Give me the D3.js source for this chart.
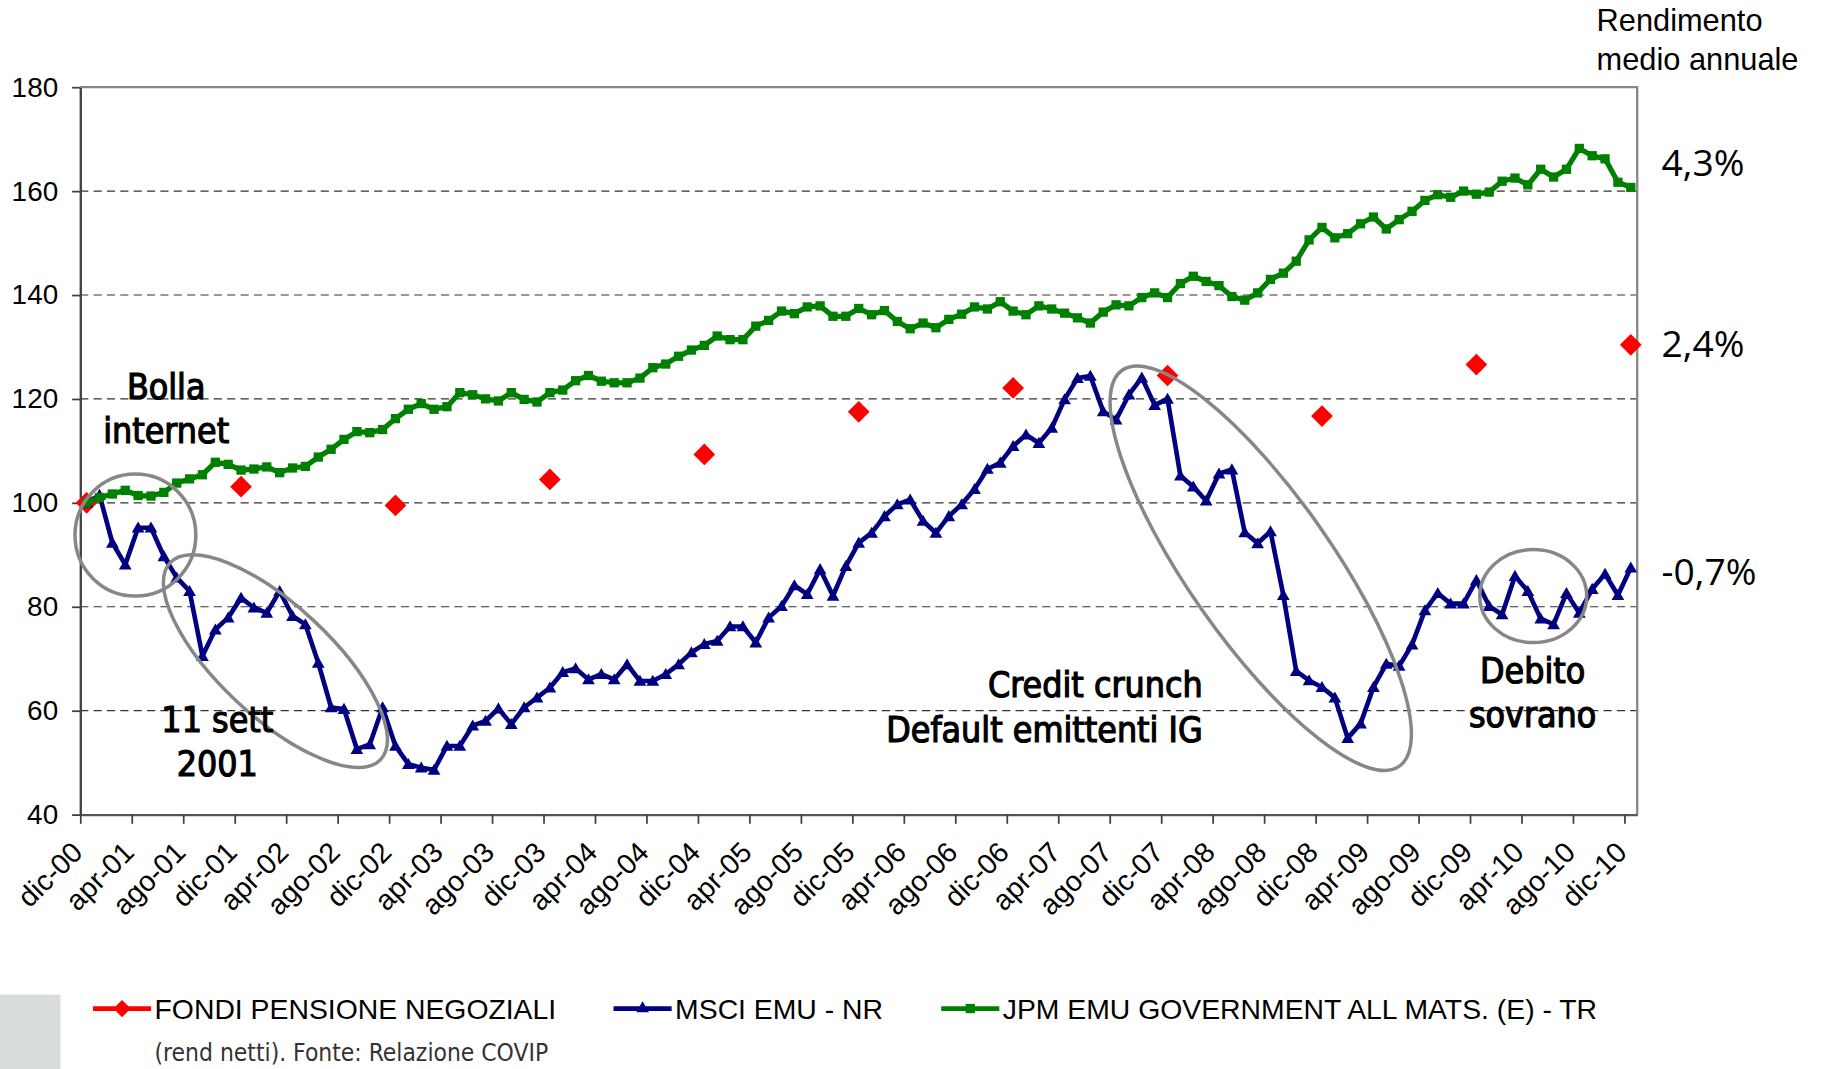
<!DOCTYPE html>
<html lang="it">
<head>
  <meta charset="UTF-8">
  <title>Rendimenti fondi pensione, MSCI EMU, JPM EMU</title>
  <script src="https://cdn.jsdelivr.net/npm/d3@7"></script>
  <style>
    html, body { margin: 0; padding: 0; background: #fff; }
    svg { display: block; }
  </style>
</head>
<body>
  <script>

    // monthly labels, one every 4 months (dic-00 ... dic-10)
    var tickLabels = [
      "dic-00", "apr-01", "ago-01", "dic-01", "apr-02", "ago-02", "dic-02",
      "apr-03", "ago-03", "dic-03", "apr-04", "ago-04", "dic-04", "apr-05",
      "ago-05", "dic-05", "apr-06", "ago-06", "dic-06", "apr-07", "ago-07",
      "dic-07", "apr-08", "ago-08", "dic-08", "apr-09", "ago-09", "dic-09",
      "apr-10", "ago-10", "dic-10"
    ];

    // MSCI EMU - NR, monthly, base 100 at dic-00
    var msciEmu = [
      100, 101.5, 92.3, 88.1, 95.2, 95.2, 89.7, 85.6, 83.0, 70.5, 75.6, 77.9,
      81.7, 79.8, 78.8, 83.0, 78.2, 76.6, 69.2, 60.6, 60.3, 52.6, 53.5, 60.6,
      53.2, 49.7, 49.0, 48.6, 53.2, 53.2, 57.1, 58.0, 60.4, 57.4, 60.6, 62.5,
      64.4, 67.4, 68.1, 66.0, 67.0, 66.0, 68.9, 65.7, 65.7, 67.0, 68.9, 71.2,
      72.8, 73.4, 76.2, 76.2, 73.1, 77.9, 80.1, 84.1, 82.4, 87.2, 82.1, 87.8,
      92.3, 94.2, 97.4, 99.7, 100.6, 96.5, 94.2, 97.4, 99.7, 102.6, 106.5, 107.7,
      110.9, 113.1, 111.5, 114.4, 119.9, 124.0, 124.4, 117.6, 116.0, 120.8, 124.1, 118.8,
      120.0, 105.2, 103.1, 100.4, 105.6, 106.4, 94.3, 92.2, 94.5, 82.2, 67.6, 65.8,
      64.5, 62.5, 54.7, 57.5, 64.5, 69.0, 68.6, 72.7, 79.3, 82.6, 80.6, 80.6,
      85.1, 80.1, 78.5, 85.9, 83.0, 77.7, 76.6, 82.6, 78.8, 83.4, 86.3, 82.2,
      87.5
    ];

    // JPM EMU GOVERNMENT ALL MATS. (E) - TR, monthly
    var jpmEmu = [
      100, 101.0, 101.7, 102.4, 101.4, 101.3, 102.0, 103.8, 104.6, 105.4, 107.8, 107.4,
      106.3, 106.5, 106.9, 105.8, 106.7, 107.0, 108.8, 110.3, 112.2, 113.7, 113.5, 114.1,
      116.2, 118.0, 119.1, 118.0, 118.5, 121.2, 120.8, 120.0, 119.6, 121.2, 119.9, 119.4,
      121.2, 121.7, 123.5, 124.5, 123.4, 123.1, 123.1, 124.0, 126.0, 126.7, 128.2, 129.4,
      130.3, 132.1, 131.4, 131.4, 134.0, 135.1, 136.9, 136.4, 137.7, 137.9, 135.9, 135.9,
      137.4, 136.2, 137.0, 134.9, 133.5, 134.6, 133.7, 135.3, 136.3, 137.7, 137.3, 138.7,
      136.9, 136.2, 137.9, 137.3, 136.5, 135.6, 134.6, 136.7, 138.1, 137.9, 139.5, 140.4,
      139.5, 142.2, 143.6, 142.6, 141.8, 139.7, 139.0, 140.4, 143.0, 144.2, 146.5, 150.6,
      153.0, 151.0, 151.8, 153.7, 155.0, 152.7, 154.5, 156.1, 158.2, 159.3, 158.8, 160.0,
      159.4, 159.8, 161.9, 162.5, 161.2, 164.2, 162.7, 164.2, 168.2, 166.8, 166.2, 161.7,
      160.7
    ];

    // FONDI PENSIONE NEGOZIALI, one value per year (month index, value)
    var fondiMonths = [0, 12, 24, 36, 48, 60, 72, 84, 96, 108, 120];
    var fondiValues = [100, 103.1, 99.5, 104.5, 109.3, 117.5, 122.1, 124.5, 116.7, 126.6, 130.4];

    // average annual return, right side
    var rendLabels = ["4,3%", "2,4%", "-0,7%"];
    var rendValues = [165.3, 130.5, 86.7];

    var legendNames = [
      "FONDI PENSIONE NEGOZIALI",
      "MSCI EMU - NR",
      "JPM EMU GOVERNMENT ALL MATS. (E) - TR"
    ];

    var yTicks = [40, 60, 80, 100, 120, 140, 160, 180];

    var red = "#ff0000", navy = "#000080", green = "#008000", grey = "#878787";
    var nMonths = msciEmu.length;

    var plotLeft = 69, plotRight = 1409, plotTop = 75, plotBottom = 701;

    var svg = d3.select("body")
      .append("svg")
        .attr("width", 1822)
        .attr("height", 1069)
        .attr("viewBox", "0 0 1568 920");

    // grey block in the lower-left corner of the slide
    svg.append("rect")
        .attr("x", 0).attr("y", 856)
        .attr("width", 52).attr("height", 64)
        .attr("fill", "#d9dcdd");

    var x = d3.scaleLinear().domain([0, nMonths]).range([plotLeft, plotRight]);
    var y = d3.scaleLinear().domain([40, 180]).range([plotBottom, plotTop]);
    var xc = function(i) { return x(i + 0.5); };

    // dashed grid lines
    svg.append("g")
      .selectAll("line")
      .data(yTicks.filter(function(t) { return t > 40 && t < 180; }))
      .enter().append("line")
        .attr("x1", plotLeft).attr("x2", plotRight)
        .attr("y1", function(d) { return y(d); })
        .attr("y2", function(d) { return y(d); })
        .attr("stroke", "#333")
        .attr("stroke-width", 1)
        .attr("stroke-dasharray", "7,4.5");

    // top and right border
    svg.append("path")
        .attr("d", "M" + plotLeft + "," + plotTop + "H" + plotRight + "V" + plotBottom)
        .attr("fill", "none")
        .attr("stroke", grey)
        .attr("stroke-width", 2);

    // y axis
    var yAxis = svg.append("g")
        .attr("transform", "translate(" + plotLeft + ",0)")
        .call(d3.axisLeft(y).tickValues(yTicks).tickSize(7).tickSizeOuter(0));
    yAxis.select(".domain").attr("stroke", "#404040").attr("stroke-width", 2);
    yAxis.selectAll(".tick line").attr("stroke", "#404040").attr("stroke-width", 1.5);
    yAxis.selectAll(".tick text")
        .attr("x", -19)
        .attr("font-family", "'Liberation Sans', Arial, sans-serif")
        .attr("font-size", 24)
        .attr("fill", "#000");

    // x axis
    var xAxis = svg.append("g")
        .attr("transform", "translate(0," + plotBottom + ")")
        .call(d3.axisBottom(x)
          .tickValues(d3.range(0, nMonths, 4))
          .tickFormat(function(d) { return tickLabels[d / 4]; })
          .tickSize(8)
          .tickSizeOuter(0));
    xAxis.select(".domain").attr("stroke", "#555").attr("stroke-width", 2);
    xAxis.selectAll(".tick line").attr("stroke", "#404040").attr("stroke-width", 1.5);
    xAxis.selectAll(".tick text")
        .attr("text-anchor", "end")
        .attr("dy", 0)
        .attr("y", 0)
        .attr("transform", "translate(3,34) rotate(-45)")
        .attr("font-family", "'Liberation Sans', Arial, sans-serif")
        .attr("font-size", 24.5)
        .attr("fill", "#000");

    // series
    var line = d3.line()
        .x(function(d, i) { return xc(i); })
        .y(function(d) { return y(d); });

    var diamond = d3.symbol().type(d3.symbolSquare).size(175);
    var triangle = d3.symbol().type(d3.symbolTriangle).size(52);
    var square = d3.symbol().type(d3.symbolSquare).size(64);

    svg.append("g")
      .selectAll("path")
      .data(fondiValues)
      .enter().append("path")
        .attr("d", diamond)
        .attr("transform", function(d, i) {
          return "translate(" + xc(fondiMonths[i]) + "," + y(d) + ") rotate(45)";
        })
        .attr("fill", red);

    svg.append("path")
        .datum(msciEmu)
        .attr("d", line)
        .attr("fill", "none")
        .attr("stroke", navy)
        .attr("stroke-width", 4)
        .attr("stroke-linejoin", "round");
    svg.append("g")
      .selectAll("path")
      .data(msciEmu)
      .enter().append("path")
        .attr("d", triangle)
        .attr("transform", function(d, i) { return "translate(" + xc(i) + "," + (y(d) + 1) + ")"; })
        .attr("fill", navy);

    svg.append("path")
        .datum(jpmEmu)
        .attr("d", line)
        .attr("fill", "none")
        .attr("stroke", green)
        .attr("stroke-width", 4.5)
        .attr("stroke-linejoin", "round");
    svg.append("g")
      .selectAll("path")
      .data(jpmEmu)
      .enter().append("path")
        .attr("d", square)
        .attr("transform", function(d, i) { return "translate(" + xc(i) + "," + y(d) + ")"; })
        .attr("fill", green);

    // annotations: circles and ellipses
    var shapes = [
      { cx: 116.5, cy: 460.5, rx: 52, ry: 52.5, a: 0 },
      { cx: 237, cy: 569, rx: 124, ry: 48, a: 43 },
      { cx: 1085, cy: 489, rx: 208, ry: 62, a: 55 },
      { cx: 1319.5, cy: 513, rx: 46, ry: 40 }
    ];
    svg.append("g")
      .selectAll("ellipse")
      .data(shapes)
      .enter().append("ellipse")
        .attr("cx", 0).attr("cy", 0)
        .attr("rx", function(d) { return d.rx; })
        .attr("ry", function(d) { return d.ry; })
        .attr("transform", function(d) {
          return "translate(" + d.cx + "," + d.cy + ") rotate(" + (d.a || 0) + ")";
        })
        .attr("fill", "none")
        .attr("stroke", grey)
        .attr("stroke-width", 3);

    var notes = [
      { t: "Bolla", x: 143, y: 343, anchor: "middle" },
      { t: "internet", x: 143, y: 381, anchor: "middle" },
      { t: "11 sett", x: 187, y: 630, anchor: "middle" },
      { t: "2001", x: 187, y: 668, anchor: "middle" },
      { t: "Credit crunch", x: 1035, y: 600, anchor: "end" },
      { t: "Default emittenti IG", x: 1035, y: 639, anchor: "end" },
      { t: "Debito", x: 1319, y: 588, anchor: "middle" },
      { t: "sovrano", x: 1319, y: 626, anchor: "middle" }
    ];
    svg.append("g")
      .selectAll("text")
      .data(notes)
      .enter().append("text")
        .attr("x", function(d) { return d.x; })
        .attr("y", function(d) { return d.y; })
        .attr("text-anchor", function(d) { return d.anchor; })
        .attr("font-family", "'DejaVu Sans Condensed', 'DejaVu Sans', sans-serif")
        .attr("font-stretch", "condensed")
        .attr("font-size", 30.5)
        .attr("fill", "#000")
        .attr("stroke", "#000")
        .attr("stroke-width", 1)
        .text(function(d) { return d.t; });

    // right side title and returns
    svg.append("text")
        .attr("font-family", "'Liberation Sans', Arial, sans-serif")
        .attr("font-size", 26.5)
        .selectAll("tspan")
        .data(["Rendimento", "medio annuale"])
        .enter().append("tspan")
          .attr("x", 1374)
          .attr("y", function(d, i) { return 27 + i * 33; })
          .text(function(d) { return d; });

    svg.append("g")
      .selectAll("text")
      .data(rendLabels)
      .enter().append("text")
        .attr("x", 1430)
        .attr("y", function(d, i) { return y(rendValues[i]) + 11; })
        .attr("font-family", "'Open Sans', sans-serif")
        .attr("font-size", 32)
        .attr("fill", "#000")
        .text(function(d) { return d; });

    // legend
    var legendX = [80, 528, 810];
    var legendColors = [red, navy, green];
    var legendMarks = [diamond, triangle, square];
    var legend = svg.append("g")
      .selectAll("g")
      .data(legendNames)
      .enter().append("g")
        .attr("transform", function(d, i) { return "translate(" + legendX[i] + ",868)"; });
    legend.append("line")
        .attr("x1", 0).attr("x2", 50)
        .attr("stroke", function(d, i) { return legendColors[i]; })
        .attr("stroke-width", 4);
    legend.append("path")
        .attr("d", function(d, i) { return i === 0 ? d3.symbol().type(d3.symbolSquare).size(110)() : legendMarks[i](); })
        .attr("transform", function(d, i) { return "translate(25,0)" + (i === 0 ? " rotate(45)" : ""); })
        .attr("fill", function(d, i) { return legendColors[i]; });
    legend.append("text")
        .attr("x", 53)
        .attr("y", 9)
        .attr("font-family", "'Liberation Sans', Arial, sans-serif")
        .attr("font-size", 24.4)
        .attr("fill", "#000")
        .text(function(d) { return d; });

    svg.append("text")
        .attr("x", 133)
        .attr("y", 913)
        .attr("font-family", "'DejaVu Sans Condensed', 'DejaVu Sans', sans-serif")
        .attr("font-stretch", "condensed")
        .attr("font-size", 21)
        .attr("fill", "#333")
        .text("(rend netti). Fonte: Relazione COVIP");

  </script>
</body>
</html>
